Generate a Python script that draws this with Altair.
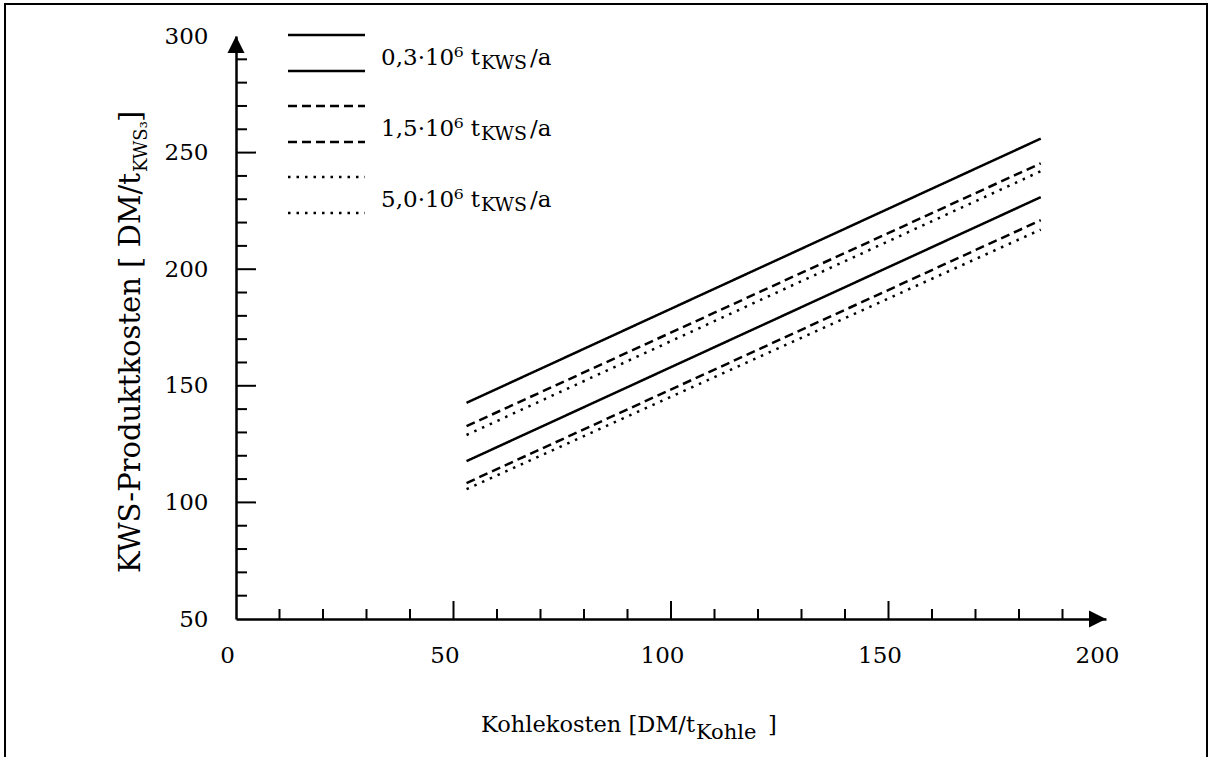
import altair as alt
import pandas as pd

# ---- data ----
kohlekosten = [53, 185]                       # DM/t Kohle (start, end of every line)
capacities = ["0,3", "1,5", "5,0"]            # 10^6 t_KWS/a
upper_start = [142.7, 132.7, 128.9]
upper_end = [256.0, 245.4, 242.0]
lower_start = [117.7, 108.3, 105.7]
lower_end = [230.9, 221.0, 217.0]

x_labels = [0, 50, 100, 150, 200]
y_labels = [50, 100, 150, 200, 250, 300]
x_major = [50, 100, 150]
x_minor = [v for v in range(10, 200, 10) if v % 50]
y_major = [100, 150, 200, 250]
y_minor = [v for v in range(60, 300, 10) if v % 50]

# ---- styles / layout ----
FONT = "DejaVu Serif"
W, H = 870, 583
dash_styles = [[1, 0], [9, 5], [2.5, 6]]

rows = []
for i, cap in enumerate(capacities):
    for variant, (s, e) in (("oben", (upper_start[i], upper_end[i])),
                            ("unten", (lower_start[i], lower_end[i]))):
        rows.append({"cap": cap, "line": cap + variant, "kohle": kohlekosten[0], "kws": s})
        rows.append({"cap": cap, "line": cap + variant, "kohle": kohlekosten[1], "kws": e})
df = pd.DataFrame(rows)

xscale = alt.Scale(domain=[0, 200], nice=False, zero=False)
yscale = alt.Scale(domain=[50, 300], nice=False, zero=False)
x_axis = alt.Axis(values=x_labels, title=None, grid=False, ticks=False, tickSize=0,
                  domain=True, domainColor="black", domainWidth=2.5,
                  labelFont=FONT, labelFontSize=23, labelColor="black",
                  labelPadding=25, labelOffset=-9, labelFlush=False)
y_axis = alt.Axis(values=y_labels, title=None, grid=False, ticks=False, tickSize=0,
                  domain=True, domainColor="black", domainWidth=2.5,
                  labelFont=FONT, labelFontSize=23, labelColor="black",
                  labelPadding=28, labelFlush=False)

lines = alt.Chart(df).mark_line(color="black", strokeWidth=2.5).encode(
    x=alt.X("kohle:Q", scale=xscale, axis=x_axis),
    y=alt.Y("kws:Q", scale=yscale, axis=y_axis),
    strokeDash=alt.StrokeDash("cap:N", scale=alt.Scale(domain=capacities, range=dash_styles),
                              legend=None),
    detail="line:N",
)

def ticks_x(vals, length):
    return alt.Chart(pd.DataFrame({"v": vals})).mark_rule(color="black", strokeWidth=2).encode(
        x=alt.X("v:Q", scale=xscale, axis=x_axis),
        y=alt.value(H), y2=alt.value(H - length))

def ticks_y(vals, length):
    return alt.Chart(pd.DataFrame({"v": vals})).mark_rule(color="black", strokeWidth=2).encode(
        y=alt.Y("v:Q", scale=yscale, axis=y_axis),
        x=alt.value(0), x2=alt.value(length))

one = pd.DataFrame({"_": [0]})

def txt(text, x, y, size, align="left", angle=0):
    kw = dict(text=text, font=FONT, fontSize=size, color="black", align=align,
              baseline="alphabetic")
    if angle:
        kw["angle"] = angle
    return alt.Chart(one).mark_text(**kw).encode(x=alt.value(x), y=alt.value(y))

arrow_y = alt.Chart(one).mark_point(shape="M0,0L-1,2L1,2Z", size=289, filled=True,
                                     color="black", opacity=1).encode(
    x=alt.value(0), y=alt.value(0))
arrow_x = alt.Chart(one).mark_point(shape="M0,0L-2,-1L-2,1Z", size=289, filled=True,
                                     color="black", opacity=1).encode(
    x=alt.value(W), y=alt.value(H))

frame = alt.Chart(one).mark_rect(fillOpacity=0, stroke="black", strokeWidth=2).encode(
    x=alt.value(-231), x2=alt.value(971), y=alt.value(-32), y2=alt.value(740))

layers = [frame, lines,
          ticks_x(x_major, 18), ticks_x(x_minor, 10),
          ticks_y(y_major, 20), ticks_y(y_minor, 11),
          arrow_y, arrow_x]

# legend (each entry: two sample lines + label)
for i, cap in enumerate(capacities):
    y_top = -1 + 71 * i
    for yy in (y_top, y_top + 36):
        layers.append(alt.Chart(one).mark_rule(color="black", strokeWidth=2.5,
                                               strokeDash=dash_styles[i]).encode(
            x=alt.value(52), x2=alt.value(129), y=alt.value(yy)))
    base = 29 + 71 * i
    layers.append(txt(cap + "·10⁶ t", 244, base, 23, align="right"))
    layers.append(txt("KWS", 245, base + 4, 19))
    layers.append(txt("/a", 294, base, 23))

# x title
layers.append(txt("Kohlekosten [DM/t", 459, 696, 22.5, align="right"))
layers.append(txt("Kohle", 460, 703, 21))
layers.append(txt("]", 532, 696, 22.5))

# y title (rotated)
layers.append(txt("KWS-Produktkosten [ DM/t", -96, 137, 29, align="right", angle=270))
layers.append(txt("KWS₃", -89, 136, 18, angle=270))
layers.append(txt("]", -96, 86, 29, angle=270))

chart = alt.layer(*layers).properties(
    width=W, height=H,
    autosize=alt.AutoSizeParams(type="none"),
    padding={"left": 236, "top": 36, "right": 108, "bottom": 138},
    background="white",
).configure_view(strokeWidth=0)

chart.save("out.html", embed_options={"renderer": "svg", "actions": False})
